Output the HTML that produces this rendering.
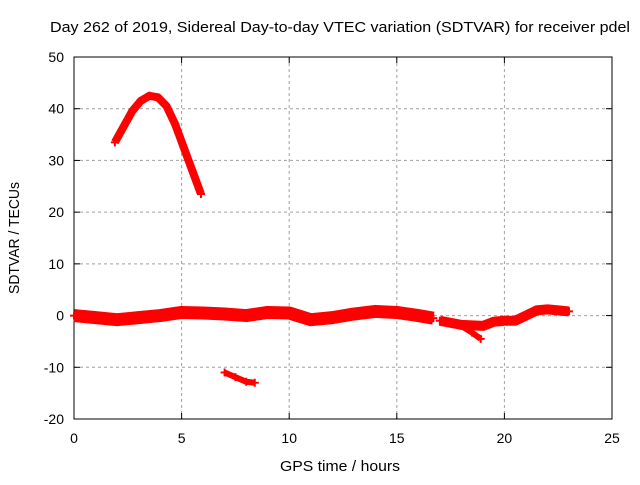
<!DOCTYPE html>
<html><head><meta charset="utf-8"><style>
body{margin:0;background:#fff}
svg text{font-family:"Liberation Sans",sans-serif;font-size:14px;fill:#000}
</style></head><body>
<svg width="640" height="480">
<rect width="640" height="480" fill="#fff"/>
<g id="grid"></g><g id="axes"></g><g id="series"></g>
<text x="50" y="32" textLength="580" lengthAdjust="spacingAndGlyphs" style="font-size:15px">Day 262 of 2019, Sidereal Day-to-day VTEC variation (SDTVAR) for receiver pdel</text>
<text x="340" y="471" text-anchor="middle" textLength="120" lengthAdjust="spacingAndGlyphs" style="font-size:15px">GPS time / hours</text>
<text x="0" y="0" text-anchor="middle" textLength="112" lengthAdjust="spacingAndGlyphs" transform="translate(19,238) rotate(-90)" style="font-size:15px">SDTVAR / TECUs</text>
</svg>
<script>
const xTicks=[0,5,10,15,20,25];
const yTicks=[-20,-10,0,10,20,30,40,50];
const peakX=[1.9,2.3,2.7,3.1,3.5,3.9,4.3,4.7,5.1,5.5,5.9];
const peakY=[33.5,36.5,39.5,41.5,42.5,42.2,40.5,37,32.5,28,23.5];
const lowX=[7,7.5,8,8.4];
const lowY=[-11,-11.9,-12.8,-13];
const bandX=[0,1,2,3,4,5,6,7,8,9,10,11,12,13,14,15,16,16.7];
const bandY=[0,-0.4,-0.8,-0.4,0,0.6,0.5,0.3,0,0.6,0.5,-0.8,-0.4,0.3,0.8,0.6,0,-0.5];
const lateX=[17,18,19,19.5,20,20.5,21,21.5,22,22.5,23];
const lateY=[-1,-1.8,-2,-1.2,-1,-1,0,1,1.2,1,0.8];
const branchX=[18,18.5,18.9];
const branchY=[-2,-3.3,-4.5];
const X0=74,X1=612,Y0=419,Y1=57;
const sx=v=>X0+(v-0)/(25-0)*(X1-X0);
const sy=v=>Y0-(v+20)/70*(Y0-Y1);
const NS='http://www.w3.org/2000/svg';
function mk(t,a,p){const e=document.createElementNS(NS,t);for(const k in a)e.setAttribute(k,a[k]);p.appendChild(e);return e;}
const g=document.getElementById('grid'),ax=document.getElementById('axes'),se=document.getElementById('series');
xTicks.forEach(t=>{const x=sx(t);
 if(t>0&&t<25){const l=mk('line',{x1:x,y1:Y1,x2:x,y2:Y0,stroke:'#a0a0a0','stroke-dasharray':'3,3'},g);}
 mk('line',{x1:x,y1:Y0,x2:x,y2:Y0-6,stroke:'#000'},ax);mk('line',{x1:x,y1:Y1,x2:x,y2:Y1+6,stroke:'#000'},ax);
 const tx=mk('text',{x:x,y:Y0+24,'text-anchor':'middle'},ax);tx.textContent=t;
 });
yTicks.forEach(t=>{const y=sy(t);
 if(t>-20&&t<50){const l=mk('line',{x1:X0,y1:y,x2:X1,y2:y,stroke:'#a0a0a0','stroke-dasharray':'3,3'},g);}
 mk('line',{x1:X0,y1:y,x2:X0+6,y2:y,stroke:'#000'},ax);mk('line',{x1:X1,y1:y,x2:X1-6,y2:y,stroke:'#000'},ax);
 const tx=mk('text',{x:X0-10,y:y+5,'text-anchor':'end'},ax);tx.textContent=t;
 });
const fr=mk('rect',{x:X0,y:Y1,width:X1-X0,height:Y0-Y1,fill:'none',stroke:'#000'},ax);

function series(xs,ys,w,name){
 const pts=xs.map((x,i)=>sx(x)+','+sy(ys[i])).join(' ');
 const pl=mk('polyline',{points:pts,fill:'none',stroke:'#f00','stroke-width':w,'stroke-linejoin':'round','stroke-linecap':'butt'},se);
 
 
 xs.forEach((x,i)=>{const cx=sx(x),cy=sy(ys[i]);
  mk('path',{d:`M${cx-4},${cy}h8M${cx},${cy-4}v8`,stroke:'#f00','stroke-width':2},se);});
}
series(peakX,peakY,8,'peak-arc-series');
series(lowX,lowY,6,'negative-segment-series');
series(bandX,bandY,13,'main-band-series');
series(lateX,lateY,10,'late-band-series');
series(branchX,branchY,6,'branch-series');
</script>
</body></html>
